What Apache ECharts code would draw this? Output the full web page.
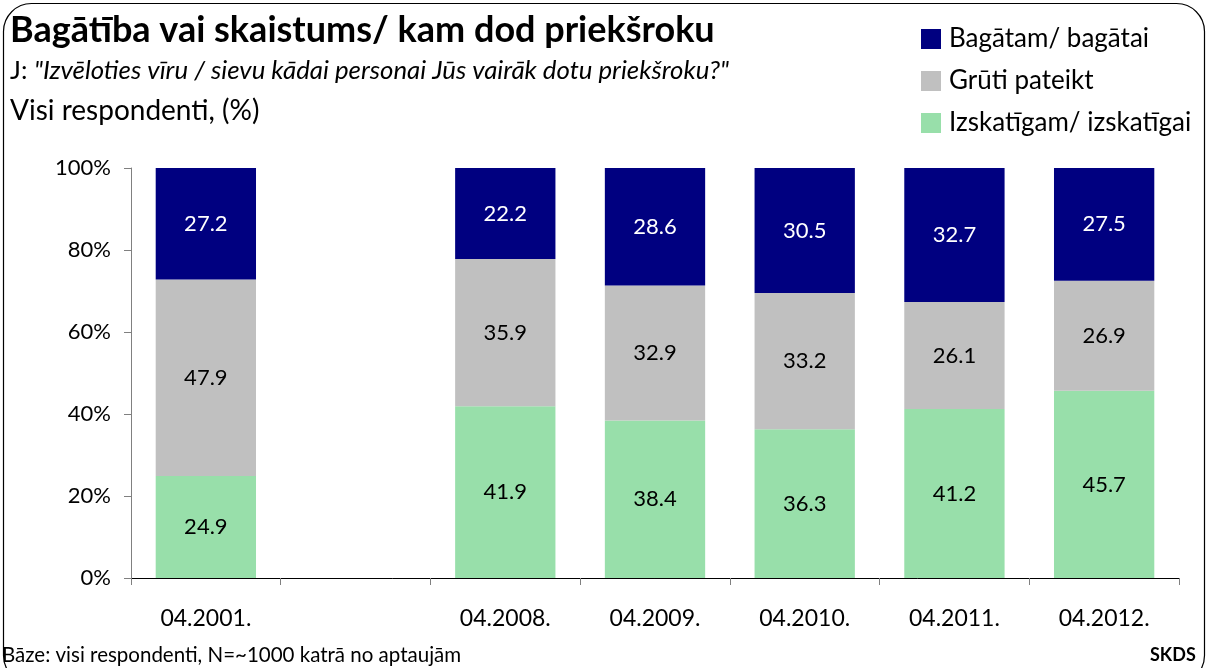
<!DOCTYPE html>
<html><head><meta charset="utf-8">
<script src="https://cdn.jsdelivr.net/npm/echarts@6/dist/echarts.min.js"></script>
<style>html,body{margin:0;padding:0;background:#fff}#c{width:1208px;height:668px}</style>
</head><body><div id="c"></div>
<script>
const categories = ['04.2001.', '', '04.2008.', '04.2009.', '04.2010.', '04.2011.', '04.2012.'];
const richValues = [27.2, null, 22.2, 28.6, 30.5, 32.7, 27.5];      // Bagātam/ bagātai
const hardValues = [47.9, null, 35.9, 32.9, 33.2, 26.1, 26.9];      // Grūti pateikt
const prettyValues = [24.9, null, 41.9, 38.4, 36.3, 41.2, 45.7];    // Izskatīgam/ izskatīgai
const yTicks = [0, 20, 40, 60, 80, 100];
const seriesNames = ['Bagātam/ bagātai', 'Grūti pateikt', 'Izskatīgam/ izskatīgai'];

const FONT = 'Lato';
function share(arr, i) {
  if (arr[i] == null) return null;
  const s = richValues[i] + hardValues[i] + prettyValues[i];
  return arr[i] / s * 100;
}
function mk(name, arr, color, labelColor) {
  return {
    name, type: 'bar', stack: 'total', barCategoryGap: '33%',
    itemStyle: { color },
    data: arr.map((v, i) => share(arr, i)),
    label: {
      show: true, position: 'inside', color: labelColor,
      fontFamily: FONT, fontSize: 22,
      formatter: p => arr[p.dataIndex] == null ? '' : arr[p.dataIndex].toFixed(1)
    }
  };
}
const chart = echarts.init(document.getElementById('c'));
chart.setOption({
  animation: false,
  grid: { left: 131, right: 29, top: 168, bottom: 90, containLabel: false },
  legend: {
    orient: 'vertical', left: 916, top: 21,
    data: seriesNames, itemWidth: 20, itemHeight: 20, itemGap: 16,
    icon: 'rect',
    textStyle: { fontFamily: FONT, fontSize: 26, color: '#000', padding: [0, 0, 0, 3] }
  },
  xAxis: {
    type: 'category', data: categories,
    axisLine: { lineStyle: { color: '#000', width: 1 } },
    axisTick: { show: true, length: 7, lineStyle: { color: '#808080' } },
    axisLabel: { fontFamily: FONT, fontSize: 23, color: '#000', margin: 29 }
  },
  yAxis: {
    type: 'value', min: 0, max: 100, interval: 20,
    splitLine: { show: false },
    axisLine: { show: true, lineStyle: { color: '#808080' } },
    axisTick: { show: true, length: 7, lineStyle: { color: '#808080' } },
    axisLabel: { fontFamily: FONT, fontSize: 22, color: '#000', margin: 20,
      formatter: v => yTicks.includes(v) ? v + '%' : '' }
  },
  series: [
    mk(seriesNames[2], prettyValues, '#98DFAA', '#000'),
    mk(seriesNames[1], hardValues, '#C0C0C0', '#000'),
    mk(seriesNames[0], richValues, '#000080', '#fff')
  ],
  graphic: [
    { type: 'rect', shape: { x: 3.5, y: 3.5, width: 1201, height: 680, r: 28 },
      style: { fill: 'none', stroke: '#000', lineWidth: 1.2 }, silent: true },
    { type: 'text', left: 10, top: 12,
      style: { text: 'Bagātība vai skaistums/ kam dod priekšroku', font: 'bold 36px ' + FONT, fill: '#000' } },
    { type: 'text', left: 10, top: 58,
      style: {
        text: '{a|J: }{b|"Izvēloties vīru / sievu kādai personai Jūs vairāk dotu priekšroku?"}',
        rich: {
          a: { fontFamily: FONT, fontSize: 25.8, fill: '#000', color: '#000' },
          b: { fontFamily: FONT, fontSize: 25.8, fontStyle: 'italic', fill: '#000', color: '#000' }
        }
      } },
    { type: 'text', left: 10, top: 97,
      style: { text: 'Visi respondenti, (%)', font: '28px ' + FONT, fill: '#000' } },
    { type: 'text', left: 2, top: 645,
      style: { text: 'Bāze: visi respondenti, N=~1000 katrā no aptaujām', font: '20.5px ' + FONT, fill: '#000' } },
    { type: 'text', left: 1150, top: 646,
      style: { text: 'SKDS', font: 'bold 18px ' + FONT, fill: '#000' } }
  ]
});
</script></body></html>
